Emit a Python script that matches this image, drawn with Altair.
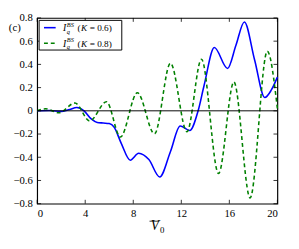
import altair as alt
import pandas as pd

# --- data ---
blue_x = [0, 1.0, 2.0, 2.7, 3.3, 3.9, 4.5, 5.0, 5.5, 6.0, 6.4, 7.0, 7.75, 8.45, 9.3, 10.2,
          11.1, 11.9, 12.7, 13.4, 13.9, 14.75, 15.85, 16.55, 17.25, 18.1, 18.95, 19.5, 20]
blue_y = [0, 0.002, -0.005, 0.012, 0.028, 0.0, -0.07, -0.10, -0.105, -0.11, -0.14, -0.28, -0.425,
          -0.366, -0.42, -0.57, -0.35, -0.13, -0.17, 0.0, 0.22, 0.545, 0.365, 0.565, 0.765, 0.44,
          0.114, 0.18, 0.29]

green_x = [0, 0.7, 1.8, 3.15, 4.37, 5.77, 6.93, 8.34, 9.77, 11.1, 12.47, 13.68, 15.1, 16.38,
           17.73, 19.16, 20]
green_y = [0, 0.017, -0.017, 0.067, -0.087, 0.078, -0.226, 0.156, -0.198, 0.41, -0.18, 0.445,
           -0.54, 0.248, -0.75, 0.513, 0.02]

x_ticks = [0, 4, 8, 12, 16, 20]
y_ticks = [-0.8, -0.6, -0.4, -0.2, 0, 0.2, 0.4, 0.6, 0.8]

W, H = 247, 191
SERIF = "Liberation Serif"

blue_df = pd.DataFrame({"V0": blue_x, "I": blue_y})
green_df = pd.DataFrame({"V0": green_x, "I": green_y})
xt_df = pd.DataFrame({"V0": x_ticks})
yt_df = pd.DataFrame({"I": y_ticks})
zero_df = pd.DataFrame({"I": [0]})
one = pd.DataFrame({"a": [0]})

xs = alt.Scale(domain=[0, 20], nice=False, zero=False)
ys = alt.Scale(domain=[-0.8, 0.8], nice=False, zero=False)

x_axis = alt.Axis(values=x_ticks, ticks=False, domain=False, grid=False,
                  labelFont=SERIF, labelFontSize=11, labelColor="black",
                  labelFontWeight="normal", labelPadding=4, format="d", title=None)
y_axis = alt.Axis(values=y_ticks, ticks=False, domain=False, grid=False,
                  labelFont=SERIF, labelFontSize=11, labelColor="black",
                  labelFontWeight="normal", labelPadding=5, title=None,
                  labelExpr="datum.value == 0 ? '0' : format(datum.value, '.1f')")


def X():
    return alt.X("V0:Q", scale=xs, axis=x_axis)


def Y():
    return alt.Y("I:Q", scale=ys, axis=y_axis)


blue = alt.Chart(blue_df).mark_line(color="#0000ff", strokeWidth=1.6,
                                    interpolate="monotone").encode(x=X(), y=Y())
green = alt.Chart(green_df).mark_line(color="#008000", strokeWidth=1.6, strokeDash=[4, 3],
                                      interpolate="monotone").encode(x=X(), y=Y())

zero = alt.Chart(zero_df).mark_rule(color="black", strokeWidth=1).encode(y=Y())

tick_len = 4
xt_bot = alt.Chart(xt_df).mark_rule(color="black", strokeWidth=0.8).encode(
    x=X(), y=alt.value(H - tick_len), y2=alt.value(H))
xt_top = alt.Chart(xt_df).mark_rule(color="black", strokeWidth=0.8).encode(
    x=X(), y=alt.value(0), y2=alt.value(tick_len))
yt_left = alt.Chart(yt_df).mark_rule(color="black", strokeWidth=0.8).encode(
    y=Y(), x=alt.value(0), x2=alt.value(tick_len))
yt_right = alt.Chart(yt_df).mark_rule(color="black", strokeWidth=0.8).encode(
    y=Y(), x=alt.value(W - tick_len), x2=alt.value(W))

# legend
box = alt.Chart(one).mark_rect(fill="white", stroke="black", strokeWidth=1).encode(
    x=alt.value(2), x2=alt.value(87), y=alt.value(2.5), y2=alt.value(33))
leg_blue = alt.Chart(one).mark_rule(color="#0000ff", strokeWidth=1.6).encode(
    x=alt.value(7), x2=alt.value(19), y=alt.value(10))
leg_green = alt.Chart(one).mark_rule(color="#008000", strokeWidth=1.6, strokeDash=[4, 3]).encode(
    x=alt.value(7), x2=alt.value(19), y=alt.value(26))


def txt(s, x, y, size, style="normal", align="left"):
    return alt.Chart(one).mark_text(text=s, font=SERIF, fontSize=size, fontStyle=style,
                                    fontWeight="normal", align=align, baseline="middle",
                                    color="black").encode(
        x=alt.value(x), y=alt.value(y))


legend_texts = []
for row_y, k in [(10, "0.6"), (26, "0.8")]:
    legend_texts += [
        txt("I", 26.5, row_y + 0.5, 10, "italic"),
        txt("BS", 30.5, row_y - 3, 6.5, "italic"),
        txt("q", 30.5, row_y + 4, 6.5, "italic"),
        txt("(", 41.5, row_y + 0.5, 9.5),
        txt("K", 45, row_y + 0.5, 9.5, "italic"),
        txt("= " + k + ")", 54, row_y + 0.5, 9.5),
    ]

panel = txt("(c)", -23, 10, 11, align="center")

# x axis title: V with overline, subscript 0
title_v = txt("V", 121, 214.5, 14, "italic", align="center")
title_0 = txt("0", 128.5, 218, 9, align="center")
title_bar = alt.Chart(one).mark_rule(color="black", strokeWidth=0.8).encode(
    x=alt.value(115.5), x2=alt.value(125.5), y=alt.value(209))

chart = alt.layer(
    blue, green, zero, xt_bot, xt_top, yt_left, yt_right,
    box, leg_blue, leg_green, *legend_texts, panel, title_v, title_0, title_bar
).properties(
    width=W, height=H,
    autosize=alt.AutoSizeParams(type="none"),
    padding={"left": 30, "top": 7, "right": 14, "bottom": 30},
).configure_view(stroke="black", strokeWidth=1.2).configure_text(font=SERIF)

chart.save("out.html", embed_options={"renderer": "svg", "actions": False})
